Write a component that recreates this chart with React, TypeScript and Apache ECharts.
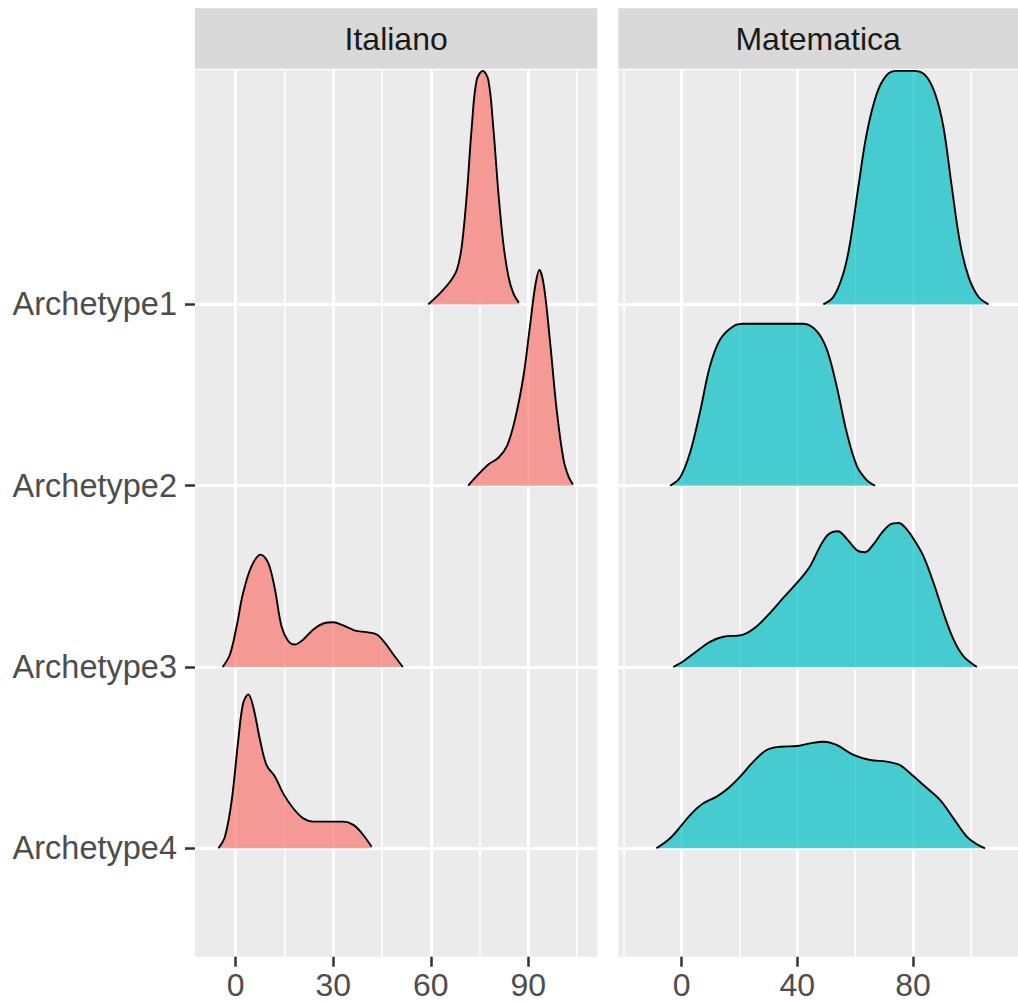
import React, { useEffect, useRef } from "react";
import * as echarts from "echarts";

const archetypes = ["Archetype1", "Archetype2", "Archetype3", "Archetype4"];
const subjects = ["Italiano", "Matematica"];
const fills = ["#F8766D", "#00BFC4"];

// Axis breaks per subject panel
const itaMajorTicks = [0, 30, 60, 90];
const itaMinorTicks = [15, 45, 75, 105];
const matMajorTicks = [0, 40, 80];
const matMinorTicks = [-20, 20, 60, 100];

// Ridge outlines: score positions and ridge heights (in units of row spacing)
const itaArch1X = [59.2, 62.8, 65.9, 68.0, 69.5, 71.1, 72.6, 74.1, 76.0, 77.7, 79.2, 80.8, 82.3, 83.9, 85.4, 87.1];
const itaArch1H = [0, 0.061, 0.125, 0.19, 0.318, 0.612, 0.98, 1.237, 1.288, 1.237, 0.98, 0.612, 0.336, 0.152, 0.061, 0.009];

const itaArch2X = [71.5, 74.6, 77.7, 80.8, 83.4, 85.9, 88.5, 90.5, 92.1, 93.4, 94.8, 96.7, 98.7, 100.8, 102.3, 103.7];
const itaArch2H = [0, 0.062, 0.117, 0.154, 0.218, 0.366, 0.605, 0.88, 1.1, 1.19, 1.1, 0.789, 0.42, 0.145, 0.053, 0.007];

const itaArch3X = [-4.0, -1.75, 0.3, 2.3, 4.9, 7.7, 10.0, 12.1, 14.1, 16.2, 18.2, 20.8, 23.9, 26.9, 30.0, 33.1, 36.7, 40.3, 43.4, 45.9, 48.5, 51.4];
const itaArch3H = [0, 0.069, 0.225, 0.409, 0.556, 0.62, 0.575, 0.427, 0.225, 0.142, 0.124, 0.152, 0.207, 0.24, 0.247, 0.229, 0.201, 0.192, 0.179, 0.133, 0.069, 0];

const itaArch4X = [-5.3, -3.3, -1.2, 0.8, 2.3, 3.9, 5.4, 7.5, 9.5, 12.1, 14.6, 17.7, 20.8, 23.9, 29.0, 33.1, 36.2, 38.8, 41.8];
const itaArch4H = [0, 0.064, 0.266, 0.597, 0.8, 0.849, 0.781, 0.597, 0.459, 0.395, 0.303, 0.221, 0.165, 0.147, 0.147, 0.147, 0.129, 0.083, 0.009];

const matArch1X = [49.0, 52.5, 55.9, 58.2, 61.1, 64.0, 67.5, 70.9, 74.4, 80.1, 84.2, 87.6, 90.5, 93.4, 96.3, 99.2, 102.6, 106.1];
const matArch1H = [0, 0.042, 0.171, 0.336, 0.649, 0.943, 1.164, 1.265, 1.288, 1.288, 1.265, 1.164, 0.98, 0.649, 0.336, 0.152, 0.042, 0];

const matArch2X = [-4.0, -0.6, 2.9, 6.3, 9.8, 13.3, 17.9, 21.3, 32.9, 42.1, 46.7, 50.2, 53.6, 57.1, 60.6, 64.0, 66.9];
const matArch2H = [0, 0.044, 0.182, 0.403, 0.66, 0.807, 0.88, 0.893, 0.893, 0.893, 0.853, 0.752, 0.549, 0.292, 0.108, 0.031, 0];

const matArch3X = [-2.9, 0.6, 5.2, 9.8, 14.4, 21.3, 26.0, 30.6, 35.2, 40.9, 44.4, 47.9, 50.7, 54.0, 57.1, 60.6, 63.4, 66.3, 69.2, 72.1, 75.0, 77.9, 80.7, 83.6, 87.1, 90.5, 94.0, 97.4, 102.1];
const matArch3H = [0, 0.032, 0.087, 0.139, 0.167, 0.179, 0.225, 0.299, 0.382, 0.483, 0.556, 0.666, 0.731, 0.749, 0.707, 0.644, 0.633, 0.676, 0.74, 0.786, 0.794, 0.758, 0.694, 0.611, 0.464, 0.299, 0.152, 0.06, 0];

const matArch4X = [-8.7, -4.0, 0, 3.5, 7.5, 12.1, 16.1, 20.2, 24.8, 29.4, 34.0, 39.8, 44.4, 49.0, 53.6, 59.4, 65.2, 70.9, 75.5, 79.0, 83.6, 89.4, 94.0, 98.6, 102.1, 104.9];
const matArch4H = [0, 0.055, 0.128, 0.193, 0.248, 0.285, 0.331, 0.395, 0.478, 0.542, 0.56, 0.564, 0.579, 0.588, 0.57, 0.515, 0.487, 0.478, 0.459, 0.414, 0.349, 0.266, 0.165, 0.064, 0.022, 0];

const ridgesX = [
  [itaArch1X, itaArch2X, itaArch3X, itaArch4X],
  [matArch1X, matArch2X, matArch3X, matArch4X],
];
const ridgesH = [
  [itaArch1H, itaArch2H, itaArch3H, itaArch4H],
  [matArch1H, matArch2H, matArch3H, matArch4H],
];

const FONT = "'Liberation Sans', Arial, Helvetica, sans-serif";
const rowValues = archetypes.map((_, i) => archetypes.length - i);

const panels = [
  { left: 195, width: 402.3, min: -12.5, max: 111.2, major: itaMajorTicks, minor: itaMinorTicks },
  { left: 618.3, width: 399.7, min: -21.9, max: 116.3, major: matMajorTicks, minor: matMinorTicks },
];
const PANEL_TOP = 70;
const PANEL_HEIGHT = 886.7;

function buildOption() {
  const grid = panels.map((p) => ({
    left: p.left,
    top: PANEL_TOP,
    width: p.width,
    height: PANEL_HEIGHT,
    show: true,
    backgroundColor: "#EBEBEB",
    borderWidth: 0,
    containLabel: false,
  }));

  const xAxis: any[] = [];
  const yAxis: any[] = [];
  panels.forEach((p, gi) => {
    xAxis.push({
      type: "value",
      gridIndex: gi,
      position: "bottom",
      min: p.min,
      max: p.max,
      axisLine: { show: false, onZero: false },
      axisTick: { show: true, length: 10, customValues: p.major, lineStyle: { color: "#333333", width: 2.5 } },
      axisLabel: {
        customValues: p.major,
        margin: 12,
        color: "#4D4D4D",
        fontSize: 32,
        fontFamily: FONT,
      },
      splitLine: { show: true, lineStyle: { color: "#FFFFFF", width: 3 } },
    });
    xAxis.push({
      type: "value",
      gridIndex: gi,
      position: "top",
      min: p.min,
      max: p.max,
      axisLine: { show: false, onZero: false },
      axisTick: { show: false, customValues: p.minor },
      axisLabel: { show: false, customValues: p.minor },
      splitLine: { show: true, lineStyle: { color: "#FFFFFF", width: 1.6 } },
    });
    yAxis.push({
      type: "value",
      gridIndex: gi,
      position: "left",
      min: 0.402,
      max: 5.293,
      axisLine: { show: false, onZero: false },
      axisTick: {
        show: gi === 0,
        length: 10,
        customValues: rowValues,
        lineStyle: { color: "#333333", width: 2.5 },
      },
      axisLabel: {
        show: gi === 0,
        customValues: rowValues,
        margin: 18,
        color: "#4D4D4D",
        fontSize: 32.5,
        fontFamily: FONT,
        formatter: (v: number) => archetypes[archetypes.length - Math.round(v)],
      },
      splitLine: { show: true, lineStyle: { color: "#FFFFFF", width: 3 } },
    });
  });

  const series: any[] = [];
  subjects.forEach((subj, si) => {
    archetypes.forEach((arch, ai) => {
      const base = archetypes.length - ai;
      const xs = ridgesX[si][ai];
      const hs = ridgesH[si][ai];
      series.push({
        name: `${subj} ${arch}`,
        type: "line",
        xAxisIndex: si * 2,
        yAxisIndex: si,
        data: xs.map((x, k) => [x, base + hs[k]]),
        smooth: 0.35,
        showSymbol: false,
        symbol: "none",
        z: 2 + ai,
        lineStyle: { color: "#000000", width: 1.9 },
        areaStyle: { color: fills[si], opacity: 0.7, origin: base },
      });
    });
  });

  const graphic: any[] = [];
  panels.forEach((p, gi) => {
    graphic.push({
      type: "rect",
      shape: { x: p.left, y: 8.3, width: p.width, height: 60.5 },
      style: { fill: "#D9D9D9" },
      silent: true,
    });
    graphic.push({
      type: "text",
      x: p.left + p.width / 2,
      y: 39,
      style: {
        text: subjects[gi],
        fill: "#1A1A1A",
        fontSize: 32,
        fontFamily: FONT,
        textAlign: "center",
        textVerticalAlign: "middle",
      },
      silent: true,
    });
  });

  return {
    animation: false,
    backgroundColor: "#FFFFFF",
    grid,
    xAxis,
    yAxis,
    series,
    graphic,
  };
}

export default function App() {
  const ref = useRef<HTMLDivElement>(null);
  useEffect(() => {
    if (!ref.current) return;
    const chart = echarts.init(ref.current, undefined, { renderer: "svg" });
    chart.setOption(buildOption());
    return () => chart.dispose();
  }, []);
  return (
    <div
      ref={ref}
      style={{ position: "fixed", left: 0, top: 0, width: 1018, height: 1003 }}
    />
  );
}
